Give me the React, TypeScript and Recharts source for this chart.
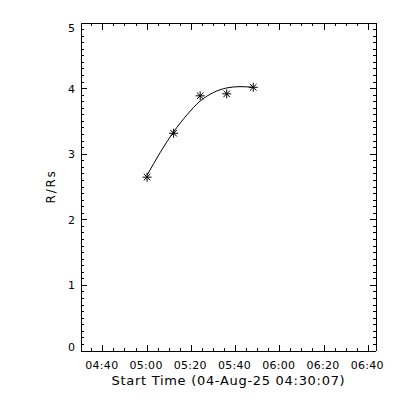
import { LineChart, Line, XAxis, YAxis, Label } from 'recharts'

// minutes after 04:00
const xStart = 30 + 7 / 60 // 04:30:07
const xEnd = 163.5

const obsTimes = [60, 72, 84, 96, 108]
const obsHeights = [2.65, 3.32, 3.89, 3.92, 4.02]

const fitTimes = [60, 66, 72, 78, 84, 90, 96, 102, 108]
const fitHeights = [2.68, 3.03, 3.34, 3.6, 3.81, 3.94, 4.01, 4.03, 4.02]

const xMajor = [40, 60, 80, 100, 120, 140, 160]
const xTicks = Array.from({ length: 26 }, (_, i) => 35 + i * 5)
const yMajor = [0, 1, 2, 3, 4, 5]
const yTicks = Array.from({ length: 51 }, (_, i) => i / 10)

const rows = fitTimes.map((t, i) => {
  const k = obsTimes.indexOf(t)
  return { t, fit: fitHeights[i], r: k >= 0 ? obsHeights[k] : null }
})

const font = 'DejaVu Sans'
const plotTop = 23
const plotBottom = 351

const fmtTime = (m: number) => {
  const h = Math.floor(m / 60) + 4
  const mm = Math.round(m % 60)
  return `${String(h).padStart(2, '0')}:${String(mm).padStart(2, '0')}`
}

const isMajorY = (v: number) => yMajor.some((m) => Math.abs(v - m) < 1e-6)

function BottomTick({ x, y, payload }: any) {
  const major = xMajor.includes(payload.value)
  return (
    <g>
      <line x1={x} x2={x} y1={y} y2={y - (major ? 6.5 : 3.3)} stroke="#000" strokeWidth={1} shapeRendering="crispEdges" />
      {major && (
        <text x={x - 1} y={y + 17.5} textAnchor="middle" fontFamily={font} fontSize={11} letterSpacing={0.3} fill="#000">
          {fmtTime(payload.value)}
        </text>
      )}
    </g>
  )
}

function TopTick({ x, y, payload }: any) {
  const major = xMajor.includes(payload.value)
  return <line x1={x} x2={x} y1={y} y2={y + (major ? 6.5 : 3.3)} stroke="#000" strokeWidth={1} shapeRendering="crispEdges" />
}

function LeftTick({ x, y, payload }: any) {
  const major = isMajorY(payload.value)
  // labels are kept inside the box, as in the original
  const top = Math.min(Math.max(y - 4, plotTop + 0.5), plotBottom - 8.5)
  return (
    <g>
      <line x1={x} x2={x + (major ? 6 : 3.3)} y1={y} y2={y} stroke="#000" strokeWidth={1} shapeRendering="crispEdges" />
      {major && (
        <text x={x - 6} y={top + 8} textAnchor="end" fontFamily={font} fontSize={11} fill="#000">
          {Math.round(payload.value)}
        </text>
      )}
    </g>
  )
}

function RightTick({ x, y, payload }: any) {
  const major = isMajorY(payload.value)
  return <line x1={x} x2={x - (major ? 6 : 3.3)} y1={y} y2={y} stroke="#000" strokeWidth={1} shapeRendering="crispEdges" />
}

function Star({ cx, cy, index }: any) {
  if (cx == null || cy == null || !isFinite(cy)) return <g key={index} />
  const s = 4.5
  const d = 3.3
  return (
    <g key={index} stroke="#000" strokeWidth={1}>
      <line x1={cx - s} x2={cx + s} y1={cy} y2={cy} />
      <line x1={cx} x2={cx} y1={cy - s} y2={cy + s} />
      <line x1={cx - d} x2={cx + d} y1={cy - d} y2={cy + d} />
      <line x1={cx - d} x2={cx + d} y1={cy + d} y2={cy - d} />
    </g>
  )
}

const axisLine = { stroke: '#000', strokeWidth: 1, shapeRendering: 'crispEdges' }

export default function App() {
  return (
    <div style={{ position: 'absolute', left: 0, top: 0, width: 400, height: 400, background: '#fff' }}>
      <LineChart width={400} height={400} data={rows} margin={{ top: plotTop - 1, right: 23, bottom: 0, left: 0 }}>
        <XAxis
          dataKey="t"
          type="number"
          domain={[xStart, xEnd]}
          allowDataOverflow
          ticks={xTicks}
          interval={0}
          tickSize={0}
          tickMargin={0}
          tick={<BottomTick />}
          axisLine={axisLine}
          height={400 - plotBottom}
        >
          <Label
            content={() => (
              <text x={228.5} y={385} textAnchor="middle" fontFamily={font} fontSize={13} letterSpacing={0.7} fill="#000">
                Start Time (04-Aug-25 04:30:07)
              </text>
            )}
          />
        </XAxis>
        <XAxis
          xAxisId="top"
          orientation="top"
          dataKey="t"
          type="number"
          domain={[xStart, xEnd]}
          allowDataOverflow
          ticks={xTicks}
          interval={0}
          tickSize={0}
          tickMargin={0}
          tick={<TopTick />}
          axisLine={axisLine}
          height={1}
        />
        <YAxis
          type="number"
          domain={[0, 5]}
          allowDataOverflow
          ticks={yTicks}
          interval={0}
          tickSize={0}
          tickMargin={0}
          tick={<LeftTick />}
          axisLine={axisLine}
          width={81}
        >
          <Label
            content={() => (
              <text
                transform="translate(55, 186.5) rotate(-90)"
                textAnchor="middle"
                fontFamily={font}
                fontSize={12}
                letterSpacing={1.7}
                fill="#000"
              >
                R/Rs
              </text>
            )}
          />
        </YAxis>
        <YAxis
          yAxisId="right"
          orientation="right"
          type="number"
          domain={[0, 5]}
          allowDataOverflow
          ticks={yTicks}
          interval={0}
          tickSize={0}
          tickMargin={0}
          tick={<RightTick />}
          axisLine={axisLine}
          width={1}
        />
        <Line
          dataKey="fit"
          type="monotone"
          stroke="#000"
          strokeWidth={1}
          dot={false}
          activeDot={false}
          connectNulls
          isAnimationActive={false}
        />
        <Line
          dataKey="r"
          stroke="none"
          dot={<Star />}
          activeDot={false}
          isAnimationActive={false}
        />
      </LineChart>
    </div>
  )
}
